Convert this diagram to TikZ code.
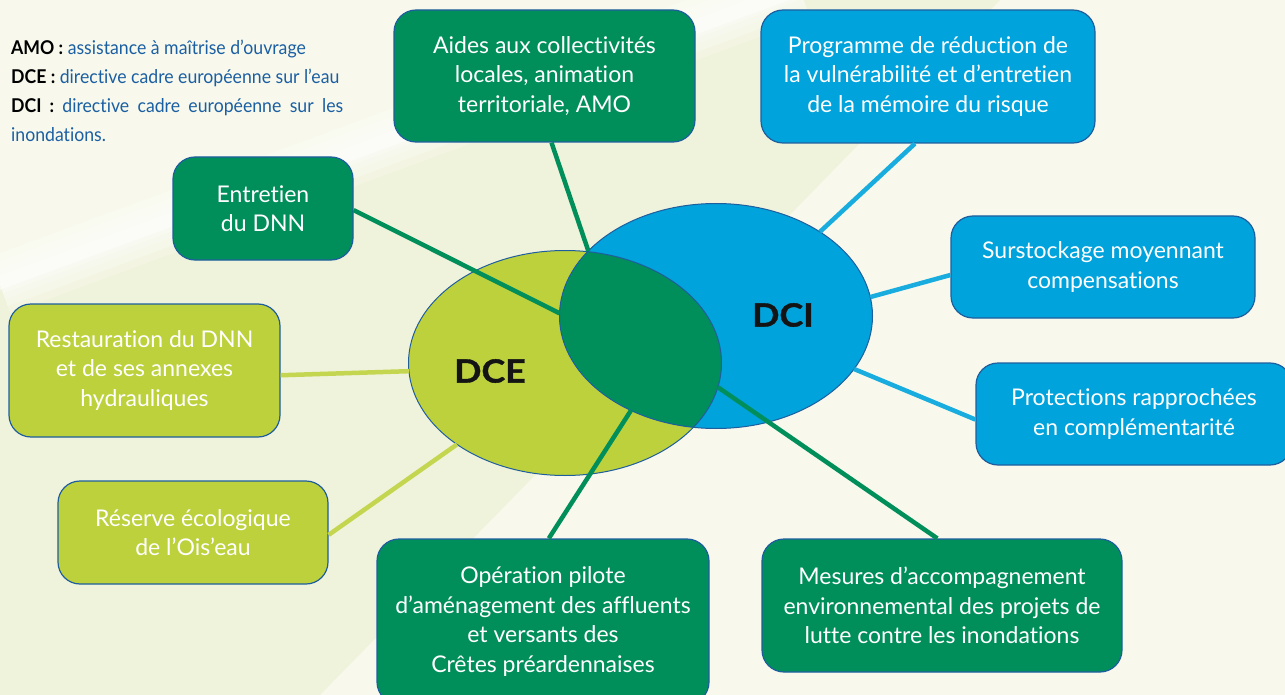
\documentclass[tikz,border=0pt]{standalone}
\usepackage{fontspec}
\setmainfont{Lato}[Ligatures=NoCommon]
\newfontfamily\legendfont[FakeStretch=0.93, Ligatures=NoCommon]{Lato}
\newfontfamily\titrefont[FakeStretch=1.12, FakeBold=1.2]{Lato}
\usetikzlibrary{shapes.geometric}

\definecolor{vert}{HTML}{008F5B}
\definecolor{bleu}{HTML}{00A3DB}
\definecolor{anis}{HTML}{BDD13C}
\definecolor{bord}{HTML}{1F5E9E}
\definecolor{fond}{HTML}{F8F9EC}
\definecolor{fondvert}{HTML}{EDF1D4}
\definecolor{legende}{HTML}{1B5FA3}

\tikzset{
  boite/.style={rectangle, draw=bord, line width=1.2pt, rounded corners=22pt, text=white,
    align=center, inner sep=0pt, font=\fontsize{23}{29.5}\selectfont},
  cercle/.style={ellipse, minimum width=313pt, minimum height=225pt, inner sep=0pt, outer sep=0pt},
  titre/.style={font=\titrefont\bfseries\fontsize{32}{32}\selectfont, text=black!92},
  lien/.style={line width=4.5pt},
}

\begin{document}
\begin{tikzpicture}[x=1pt,y=-1pt]
    \useasboundingbox (0,0) rectangle (1285,695);
    \fill[fond] (0,0) rectangle (1285,695);
    \fill[fondvert, opacity=0.7] (0,290) -- (790,0) -- (1000,0) -- (320,695) -- (0,695) -- cycle;
    \foreach \w in {60,45,30,18}
        \draw[white, line width=\w pt, opacity=0.22] (0,285) -- (800,-10);

    % les deux directives
    \node[cercle, fill=anis] (dce) at (565,363) {};
    \node[cercle, fill=bleu] (dci) at (716,316) {};
    \begin{scope}
        \clip (dce.center) ellipse [x radius=156.5pt, y radius=112.5pt];
        \fill[vert] (dci.center) ellipse [x radius=156.5pt, y radius=112.5pt];
    \end{scope}
    \draw[bord, line width=1pt] (dce.center) ellipse [x radius=156.5pt, y radius=112.5pt];
    \draw[bord, line width=1pt] (dci.center) ellipse [x radius=156.5pt, y radius=112.5pt];
    \node[titre] (dcelabel) at (490,371) {DCE};
    \node[titre] (dcilabel) at (783,315) {DCI};

    % actions
    \node[boite, fill=vert, minimum width=301pt, minimum height=132pt] (aides) at (544.5,76) {Aides aux collectivités\\locales, animation\\territoriale, AMO};
    \node[boite, fill=bleu, minimum width=334pt, minimum height=133pt] (prog) at (928,76.5) {Programme de réduction de\\la vulnérabilité et d’entretien\\de la mémoire du risque};
    \node[boite, fill=vert, minimum width=180pt, minimum height=103pt] (entr) at (263,208.5) {Entretien\\du DNN};
    \node[boite, fill=bleu, minimum width=304pt, minimum height=102pt] (surs) at (1103,267) {Surstockage moyennant\\compensations};
    \node[boite, fill=anis, minimum width=271pt, minimum height=133pt] (rest) at (144.5,370.5) {Restauration du DNN\\et de ses annexes\\hydrauliques};
    \node[boite, fill=bleu, minimum width=316pt, minimum height=102pt] (prot) at (1134,414) {Protections rapprochées\\en complémentarité};
    \node[boite, fill=anis, minimum width=270pt, minimum height=103pt] (rese) at (193,532.5) {Réserve écologique\\de l’Ois’eau};
    \node[boite, fill=vert, minimum width=332pt, minimum height=165pt] (oper) at (543,621.5) {Opération pilote\\d’aménagement des affluents\\et versants des\\Crêtes préardennaises};
    \node[boite, fill=vert, minimum width=360pt, minimum height=133pt] (mesu) at (942,605.5) {Mesures d’accompagnement\\environnemental des projets de\\lutte contre les inondations};

    % liens
    \draw[lien, vert] (aides.-84) -- (dci.153);
    \draw[lien, bleu!90!white] (prog.-101) -- (dci.39);
    \draw[lien, vert] (entr.-1) -- (dci.179);
    \draw[lien, bleu!90!white] (surs.183) -- (dci.7);
    \draw[lien, anis!90!white] (rest.-2) -- (dce.183);
    \draw[lien, bleu!90!white] (prot.182) -- (dci.-21);
    \draw[lien, anis!90!white] (rese.-1) -- (dce.217);
    \draw[lien, vert] (oper.86) -- (dci.228);
    \draw[lien, vert] (mesu.94) -- (dce.-9);

    % legende
    \node[anchor=north west, text width=332pt, align=justify, inner sep=0pt, text=legende,
      font=\legendfont\fontsize{19}{29}\selectfont] (leg) at (11,40)
      {\hyphenpenalty=10000\exhyphenpenalty=10000
       \textbf{\color{black}AMO :} assistance à maîtrise d’ouvrage\\
       \textbf{\color{black}DCE :} directive cadre européenne sur l’eau\\
       \textbf{\color{black}DCI :} directive cadre européenne sur les inondations.};
\end{tikzpicture}
\end{document}
